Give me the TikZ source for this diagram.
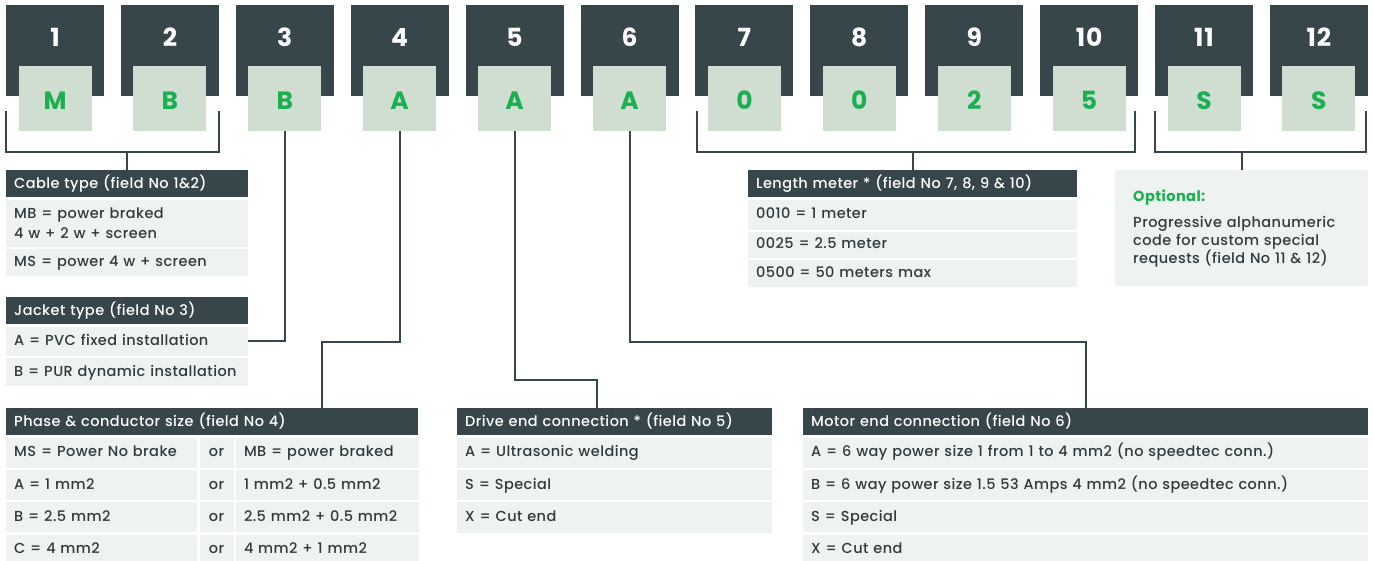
\documentclass[tikz,border=0pt]{standalone}
\usepackage{fontspec}
\setmainfont{Poppins Medium}[BoldFont={Poppins Bold},LetterSpace=3]
\usetikzlibrary{positioning}
\definecolor{slate}{HTML}{37464B}
\definecolor{codebg}{HTML}{CFDED1}
\definecolor{codefg}{HTML}{1AAF50}
\definecolor{rowbg}{HTML}{EEF3F1}
\definecolor{ink}{HTML}{30393C}

\begin{document}
\begin{tikzpicture}[x=1pt,y=-1pt,font=\fontsize{14.5}{18}\selectfont,
  wire/.style={draw=slate,line width=2pt},
  numbox/.style={fill=slate,minimum width=98pt,minimum height=91pt,inner sep=0pt},
  numtxt/.style={text=white,inner sep=0pt,font=\fontsize{25}{25}\selectfont\bfseries},
  codebox/.style={fill=codebg,text=codefg,minimum width=73pt,minimum height=65pt,inner sep=0pt,
    text height=23pt,text depth=0pt,font=\fontsize{25}{25}\selectfont\bfseries},
  hdr/.style={fill=slate,text=white,anchor=north west,inner xsep=8pt,inner ysep=0pt,
    minimum height=27pt,text width=#1,text height=11pt,text depth=2pt},
  cell/.style={fill=rowbg,text=ink,inner xsep=8pt,inner ysep=0pt,text width=#1,align=left},
  row/.style={cell=#1,minimum height=30pt,text height=10.5pt,text depth=2.5pt},
  orcell/.style={fill=rowbg,text=ink,inner sep=0pt,minimum width=34pt,minimum height=30pt,
    text height=10.5pt,text depth=2.5pt},
  optbox/.style={fill=rowbg,text=ink,anchor=north west,inner xsep=18pt,inner ysep=0pt,
    text width=217pt,minimum height=116pt,align=left}]
\useasboundingbox (0,0) rectangle (1373,561);

% code fields
\foreach \i/\c in {1/M,2/B,3/B,4/A,5/A,6/A,7/0,8/0,9/2,10/5,11/S,12/S}{
  \pgfmathsetmacro\x{55+(\i-1)*114.9}
  \node[numbox] (n\i) at (\x,50.5) {};
  \node[numtxt] (t\i) at (\x,37.5) {\i};
  \node[codebox] (c\i) at (\x,98.5) {\c};
}

% cable type
\node[hdr=226pt] (cable) at (6,170) {Cable type (field No 1\&2)};
\node[cell=226pt,minimum height=47pt,below=2pt of cable] (cableMB) {MB = power braked\\[2pt] 4 w + 2 w + screen};
\node[row=226pt,minimum height=27pt,below=2pt of cableMB] (cableMS) {MS = power 4 w + screen};

% jacket type
\node[hdr=226pt] (jacket) at (6,297) {Jacket type (field No 3)};
\node[row=226pt,minimum height=29pt,below=2pt of jacket] (jacA) {A = PVC fixed installation};
\node[row=226pt,minimum height=28pt,below=2pt of jacA] (jacB) {B = PUR dynamic installation};

% phase & conductor size
\node[hdr=396pt] (phase) at (6,408) {Phase \& conductor size (field No 4)};
\node[row=175pt,below right=2pt and 0pt of phase.south west] (ph1a) {MS = Power No brake};
\node[orcell,right=2pt of ph1a] (ph1b) {or};
\node[row=167pt,right=2pt of ph1b] (ph1c) {MB = power braked};
\node[row=175pt,below=2pt of ph1a] (ph2a) {A = 1 mm2};
\node[orcell,right=2pt of ph2a] (ph2b) {or};
\node[row=167pt,right=2pt of ph2b] (ph2c) {1 mm2 + 0.5 mm2};
\node[row=175pt,below=2pt of ph2a] (ph3a) {B = 2.5 mm2};
\node[orcell,right=2pt of ph3a] (ph3b) {or};
\node[row=167pt,right=2pt of ph3b] (ph3c) {2.5 mm2 + 0.5 mm2};
\node[row=175pt,below=2pt of ph3a] (ph4a) {C = 4 mm2};
\node[orcell,right=2pt of ph4a] (ph4b) {or};
\node[row=167pt,right=2pt of ph4b] (ph4c) {4 mm2 + 1 mm2};

% drive end
\node[hdr=299pt] (drive) at (457,408) {Drive end connection * (field No 5)};
\node[row=299pt,below=2pt of drive] (drA) {A = Ultrasonic welding};
\node[row=299pt,below=2pt of drA] (drS) {S = Special};
\node[row=299pt,minimum height=31pt,below=2pt of drS] (drX) {X = Cut end};

% motor end
\node[hdr=549pt] (motor) at (803,408) {Motor end connection (field No 6)};
\node[row=549pt,below=2pt of motor] (moA) {A = 6 way power size 1 from 1 to 4 mm2 (no speedtec conn.)};
\node[row=549pt,below=2pt of moA] (moB) {B = 6 way power size 1.5 53 Amps 4 mm2 (no speedtec conn.)};
\node[row=549pt,below=2pt of moB] (moS) {S = Special};
\node[row=549pt,below=2pt of moS] (moX) {X = Cut end};

% length
\node[hdr=313pt] (length) at (748,170) {Length meter * (field No 7, 8, 9 \& 10)};
\node[row=313pt,below=2pt of length] (len1) {0010 = 1 meter};
\node[row=313pt,minimum height=26pt,below=2pt of len1] (len2) {0025 = 2.5 meter};
\node[row=313pt,minimum height=27pt,below=2pt of len2] (len3) {0500 = 50 meters max};

% optional
\node[optbox] (opt) at (1115,170) {{\color{codefg}\bfseries Optional:}\\[8pt]
  Progressive alphanumeric\\ code for custom special\\ requests (field No 11 \& 12)};

% brackets
\coordinate (k1) at (6,111);    \coordinate (k2) at (219,111);
\coordinate (k7) at (697,111);  \coordinate (k10) at (1135,111);
\coordinate (k11) at (1155,111); \coordinate (k12) at (1366,111);
\coordinate (k4) at (322,342);  \coordinate (k5) at (597,380);
\draw[wire] (k1) -- ++(0,41) -| (k2);
\draw[wire] (k7) -- ++(0,41) -| (k10);
\draw[wire] (k11) -- ++(0,41) -| (k12);
\draw[wire] (cable.north) -- ++(0,-18);
\draw[wire] (length.north) -- ++(0,-18);
\draw[wire] (opt.north) -- ++(0,-18);

% leaders
\draw[wire] (c3.south) |- (jacA.east);
\draw[wire] (c4.south) |- (k4) -- (k4 |- phase.north);
\draw[wire] (c5.south) |- (k5) -- (k5 |- drive.north);
\draw[wire] (c6.south) |- (motor.north |- k4) -- (motor.north);
\end{tikzpicture}
\end{document}
